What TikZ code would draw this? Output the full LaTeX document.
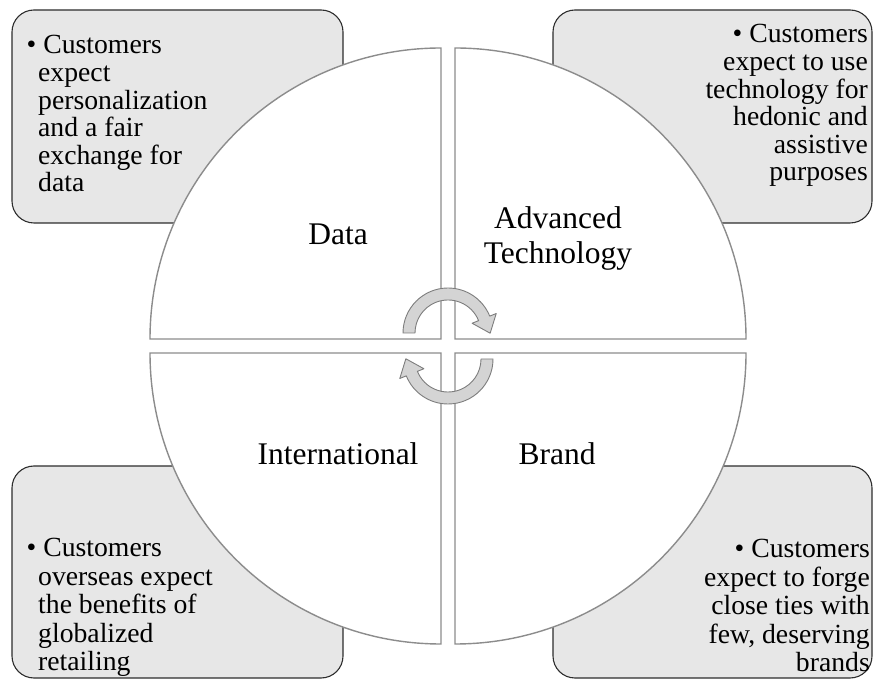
\documentclass[tikz,border=0pt]{standalone}
\usepackage{fontspec}
\setmainfont{Liberation Serif}
\usetikzlibrary{calc}

\definecolor{boxfill}{RGB}{231,231,231}
\definecolor{boxline}{RGB}{45,45,45}
\definecolor{quadline}{RGB}{140,140,140}
\definecolor{arrowfill}{RGB}{212,212,212}
\definecolor{arrowline}{RGB}{125,125,125}

\tikzset{
  notebox/.style={fill=boxfill, draw=boxline, line width=1.1pt, rounded corners=22pt},
  quadrant/.style={fill=white, draw=quadline, line width=1.4pt},
  notetext/.style={inner sep=0pt, font=\fontsize{27.7}{27.6}\selectfont},
  notetextwide/.style={inner sep=0pt, font=\fontsize{27.7}{28.4}\selectfont},
  quadlabel/.style={inner sep=0pt, font=\fontsize{31.5}{35}\selectfont, align=center},
  turnarrow/.style={fill=arrowfill, draw=arrowline, line width=0.9pt, line join=round},
}

% curved block arrow: centre, start angle, end angle (runs clockwise)
\newcommand{\cyclearrow}[3]{%
  \path[turnarrow] ($(#1)+(#2:45)$) arc[start angle=#2, end angle=#3, radius=45]
    -- ($(#1)+(#3:52)$) -- ($(#1)+(#3:39)+(#3-90:16)$) -- ($(#1)+(#3:26)$)
    -- ($(#1)+(#3:33)$) arc[start angle=#3, end angle=#2, radius=33] -- cycle;
}

\begin{document}
\begin{tikzpicture}[x=1pt, y=1pt]
\useasboundingbox (0,0) rectangle (874,679);

% corner note boxes
\path[notebox] (12,456) rectangle (343,669);
\path[notebox] (553,456) rectangle (872,669);
\path[notebox] (12,1) rectangle (343,213);
\path[notebox] (553,1) rectangle (872,213);

% the four quarter discs
\path[quadrant] (441,340) -- (150,340) arc[start angle=180, end angle=90, radius=291] -- cycle;
\path[quadrant] (455,340) -- (455,631) arc[start angle=90, end angle=0, radius=291] -- cycle;
\path[quadrant] (441,326) -- (441,35) arc[start angle=-90, end angle=-180, radius=291] -- cycle;
\path[quadrant] (455,326) -- (746,326) arc[start angle=0, end angle=-90, radius=291] -- cycle;

% quadrant titles
\node[quadlabel, anchor=base] (data) at (338,434) {Data};
\node[quadlabel, anchor=north] (advtech) at (558,472.5) {Advanced\\Technology};
\node[quadlabel, anchor=base] (intl) at (338,214) {International};
\node[quadlabel, anchor=base] (brand) at (557,214) {Brand};

% note texts
\node[notetext, align=left, anchor=north west] (tlnote) at (38,643.7)
  {\hspace*{-11.5pt}\textbullet\ Customers\\expect\\personalization\\and a fair\\exchange for\\data};
\node[notetext, align=right, anchor=north east] (trnote) at (868,654.7)
  {\textbullet\ Customers\\expect to use\\technology for\\hedonic and\\assistive\\purposes};
\node[notetextwide, align=left, anchor=north west] (blnote) at (38,140.7)
  {\hspace*{-11.5pt}\textbullet\ Customers\\overseas expect\\the benefits of\\globalized\\retailing};
\node[notetextwide, align=right, anchor=north east] (brnote) at (870,139.7)
  {\textbullet\ Customers\\expect to forge\\close ties with\\few, deserving\\brands};

% cycle arrows in the middle
\cyclearrow{448,346}{180}{22}
\cyclearrow{448,320}{0}{-158}
\end{tikzpicture}
\end{document}
